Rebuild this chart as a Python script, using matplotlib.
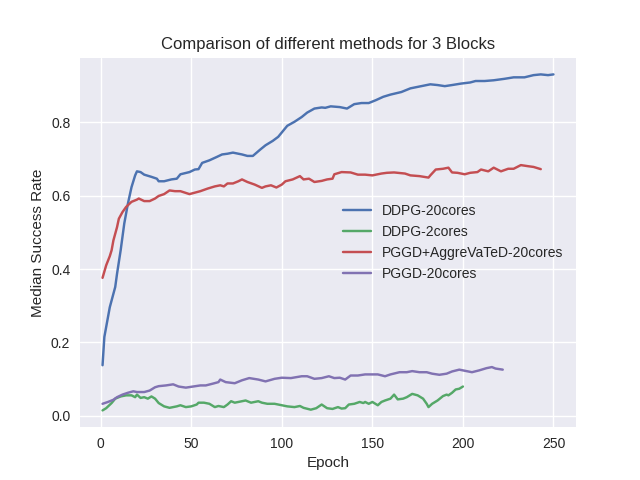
import matplotlib
matplotlib.use("Agg")
from matplotlib import pyplot as plt

# values
ddpg20_epoch = [1, 2, 5, 8, 9, 11, 13, 15, 17, 19, 20, 22, 24, 28, 31, 32, 35, 39, 42, 44,
                49, 52, 54, 56, 60, 64, 67, 70, 73, 76, 78, 81, 84, 88, 91, 95, 98, 100,
                103, 107, 111, 114, 118, 122, 124, 127, 132, 136, 140, 144, 148, 152, 156,
                160, 166, 171, 177, 182, 186, 190, 194, 199, 204, 207, 212, 217, 223, 228,
                234, 239, 243, 247, 250]
ddpg20_rate = [0.138, 0.215, 0.296, 0.351, 0.387, 0.451, 0.524, 0.578, 0.623, 0.655, 0.666,
               0.664, 0.657, 0.651, 0.646, 0.639, 0.639, 0.644, 0.646, 0.658, 0.664, 0.671,
               0.672, 0.689, 0.696, 0.705, 0.712, 0.714, 0.717, 0.714, 0.712, 0.708, 0.708,
               0.725, 0.737, 0.749, 0.760, 0.772, 0.790, 0.801, 0.814, 0.826, 0.837, 0.840,
               0.839, 0.843, 0.841, 0.837, 0.849, 0.852, 0.852, 0.860, 0.869, 0.875, 0.882,
               0.892, 0.898, 0.903, 0.901, 0.898, 0.901, 0.905, 0.908, 0.912, 0.912, 0.914,
               0.918, 0.922, 0.922, 0.928, 0.930, 0.928, 0.930]

ddpg2_epoch = [1, 3, 6, 8, 11, 14, 17, 19, 20, 22, 24, 26, 28, 30, 32, 35, 38, 42, 44, 47,
               50, 53, 54, 57, 60, 63, 65, 68, 70, 72, 74, 76, 80, 83, 87, 89, 92, 96, 100,
               103, 107, 110, 112, 116, 119, 122, 125, 128, 131, 133, 135, 137, 140, 143,
               145, 146, 148, 150, 153, 155, 157, 160, 162, 164, 167, 169, 172, 175, 178,
               180, 181, 183, 186, 189, 191, 192, 194, 196, 198, 200]
ddpg2_rate = [0.015, 0.021, 0.035, 0.047, 0.053, 0.056, 0.056, 0.051, 0.058, 0.049, 0.051,
              0.047, 0.053, 0.047, 0.035, 0.026, 0.022, 0.026, 0.029, 0.024, 0.026, 0.031,
              0.036, 0.036, 0.033, 0.024, 0.027, 0.024, 0.031, 0.040, 0.036, 0.038, 0.042,
              0.036, 0.040, 0.036, 0.033, 0.033, 0.029, 0.026, 0.024, 0.027, 0.022, 0.017,
              0.021, 0.031, 0.021, 0.019, 0.024, 0.020, 0.021, 0.031, 0.033, 0.038, 0.035,
              0.038, 0.033, 0.038, 0.029, 0.038, 0.042, 0.047, 0.058, 0.045, 0.047, 0.051,
              0.060, 0.056, 0.047, 0.033, 0.024, 0.033, 0.042, 0.054, 0.058, 0.056, 0.063,
              0.072, 0.074, 0.080]

pggd_aggr_epoch = [1, 3, 5, 6, 7, 9, 10, 12, 14, 17, 20, 21, 24, 27, 30, 32, 35, 38, 41, 44,
                   49, 52, 55, 59, 63, 66, 68, 70, 73, 76, 78, 81, 85, 89, 91, 94, 97, 100,
                   102, 106, 110, 112, 115, 118, 122, 125, 128, 129, 133, 138, 142, 146,
                   150, 155, 158, 162, 168, 171, 176, 181, 182, 185, 189, 192, 194, 197,
                   201, 204, 208, 210, 214, 217, 221, 225, 228, 232, 236, 239, 243]
pggd_aggr_rate = [0.376, 0.410, 0.435, 0.451, 0.478, 0.514, 0.537, 0.555, 0.569, 0.583,
                  0.589, 0.592, 0.585, 0.585, 0.592, 0.599, 0.604, 0.614, 0.612, 0.612,
                  0.604, 0.608, 0.612, 0.619, 0.625, 0.628, 0.625, 0.633, 0.633, 0.639,
                  0.644, 0.637, 0.630, 0.621, 0.625, 0.628, 0.622, 0.630, 0.639, 0.644,
                  0.653, 0.644, 0.646, 0.637, 0.640, 0.644, 0.646, 0.658, 0.664, 0.663,
                  0.657, 0.657, 0.655, 0.660, 0.662, 0.663, 0.660, 0.655, 0.653, 0.649,
                  0.655, 0.671, 0.673, 0.676, 0.663, 0.662, 0.658, 0.662, 0.664, 0.671,
                  0.666, 0.676, 0.666, 0.673, 0.673, 0.683, 0.680, 0.678, 0.672]

pggd20_epoch = [1, 4, 7, 9, 12, 15, 18, 20, 24, 27, 30, 32, 36, 40, 43, 47, 51, 55, 58, 62,
                65, 66, 69, 74, 78, 82, 87, 91, 96, 100, 105, 111, 114, 118, 122, 126, 129,
                132, 135, 138, 142, 146, 149, 153, 157, 160, 165, 169, 172, 176, 180, 183,
                187, 191, 194, 198, 202, 205, 209, 213, 216, 218, 222]
pggd20_rate = [0.033, 0.038, 0.044, 0.051, 0.058, 0.063, 0.067, 0.065, 0.065, 0.069, 0.078,
               0.081, 0.083, 0.086, 0.080, 0.077, 0.080, 0.083, 0.083, 0.088, 0.092, 0.099,
               0.092, 0.089, 0.097, 0.103, 0.099, 0.094, 0.101, 0.104, 0.103, 0.108, 0.108,
               0.101, 0.103, 0.108, 0.103, 0.104, 0.099, 0.110, 0.110, 0.113, 0.113, 0.113,
               0.108, 0.113, 0.119, 0.119, 0.122, 0.119, 0.119, 0.115, 0.112, 0.115, 0.121,
               0.126, 0.122, 0.119, 0.124, 0.130, 0.133, 0.129, 0.126]

plt.style.use('seaborn-v0_8')

fig = plt.figure(figsize=(6.4, 4.8), dpi=100)
ax = fig.add_subplot(111)

ax.plot(ddpg20_epoch, ddpg20_rate, label='DDPG-20cores')
ax.plot(ddpg2_epoch, ddpg2_rate, label='DDPG-2cores')
ax.plot(pggd_aggr_epoch, pggd_aggr_rate, label='PGGD+AggreVaTeD-20cores')
ax.plot(pggd20_epoch, pggd20_rate, label='PGGD-20cores')

ax.set_title('Comparison of different methods for 3 Blocks')
ax.set_xlabel('Epoch')
ax.set_ylabel('Median Success Rate')
ax.legend(loc='center right')

plt.savefig('out.png', dpi=100)
plt.close()
